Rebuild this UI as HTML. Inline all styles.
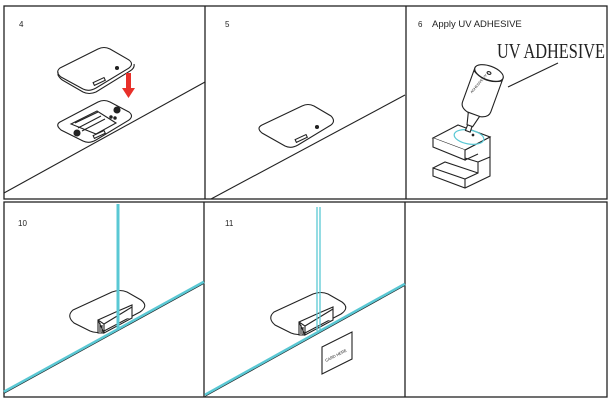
<!DOCTYPE html>
<html><head><meta charset="utf-8"><style>
html,body{margin:0;padding:0;background:#fff;}
svg{display:block;}
</style></head><body>
<svg width="610" height="402" viewBox="0 0 610 402" xmlns="http://www.w3.org/2000/svg">
<g fill="none" stroke="#222" stroke-width="1.3">
<rect x="4" y="6" width="603" height="193"/>
<line x1="205" y1="6" x2="205" y2="199"/>
<line x1="406" y1="6" x2="406" y2="199"/>
<rect x="4" y="202" width="603" height="195"/>
<line x1="204" y1="202" x2="204" y2="397"/>
<line x1="405" y1="202" x2="405" y2="397"/>
</g>
<g font-size="8" fill="#222" style="font-family:'Liberation Sans',sans-serif">
<text x="19" y="27">4</text>
<text x="225" y="27">5</text>
<text x="418" y="27">6</text>
<text x="432" y="27" font-size="9.5">Apply UV ADHESIVE</text>
<text x="18" y="226">10</text>
<text x="225" y="226">11</text>
</g>
<text x="497" y="58" style="font-family:'Liberation Serif',serif;font-size:21px" fill="#222" textLength="108" lengthAdjust="spacingAndGlyphs">UV ADHESIVE</text>

<!-- panel 4 -->
<g fill="none" stroke="#222" stroke-width="1.1">
<line x1="4" y1="193" x2="205" y2="82"/>
<path d="M60 68 L98 49 Q104 46 110 49 L129 60 Q134 64 129 68 L96 88 Q89 92 83 89 L61 77 Q55 72 60 68 Z" fill="#fff"/>
<path d="M58 72 L58 75 Q60 79 64 81 L83 92 Q89 95 96 92 L130 71 Q135 68 134 64"/>
<rect x="93" y="80" width="12" height="3" transform="rotate(-25 99 81)"/>
<circle cx="117" cy="68" r="1.5" fill="#222"/>
<path d="M60 122 L98 102 Q104 99 110 102 L129 112 Q134 116 129 120 L96 140 Q89 144 83 141 L61 130 Q55 125 60 122 Z" fill="#fff"/>
<path d="M71 124 L97 111 L116 123 L96 134 Z"/>
<path d="M75 123 L98 112 M78 128 L101 116 M82 131 L105 119"/>
<rect x="93" y="133" width="12" height="3" transform="rotate(-25 99 134)"/>
<circle cx="117" cy="110" r="3" fill="#222"/>
<circle cx="77" cy="133" r="3" fill="#222"/>
<circle cx="111" cy="117" r="1.2" fill="#222"/><circle cx="115" cy="118" r="1.2" fill="#222"/>
</g>
<path d="M126 73 h5 v15 h4 l-6.5 10 l-6.5 -10 h4 z" fill="#e8302a"/>

<!-- panel 5 -->
<g fill="none" stroke="#222" stroke-width="1.1">
<line x1="211" y1="199" x2="405" y2="95"/>
<path d="M262 125 L302 106 Q308 103 314 106 L331 116 Q336 121 331 125 L298 145 Q291 149 285 146 L262 133 Q256 128 262 125 Z" fill="#fff"/>
<rect x="295" y="137" width="12" height="3" transform="rotate(-25 301 138)"/>
<circle cx="317" cy="127" r="1.5" fill="#222"/>
</g>

<!-- panel 6 -->
<g fill="none" stroke="#222" stroke-width="1.1">
<line x1="508" y1="87" x2="558" y2="63"/>
<!-- block -->
<path d="M490 137 L490 176 L465 188 L433 176 L433 168 L465 179 L478 173 L478 162 L455 155 L465 150 L490 137 Z" fill="#fff"/>
<path d="M433 168 L445 162 L478 173 M465 179 L465 188 M478 162 L490 157"/>
<path d="M433 138 L458 125 L490 137 L465 150 Z" fill="#fff"/>
<path d="M433 138 L433 147 L465 160 L465 150 M465 160 L478 154" fill="#fff"/>
<ellipse cx="469" cy="137" rx="15" ry="7" stroke="#5ac8d4" stroke-width="1.2" transform="rotate(10 469 137)"/>
<!-- bottle -->
<g transform="translate(489,73) rotate(20)" fill="#fff">
<path d="M-2 46 L2 46 L2.5 62 L-2.5 62 Z"/>
<path d="M-7 40 L7 40 L3 56 L-3 56 Z"/>
<path d="M-15 0 L-15 36 Q-15 42 -7 44 L7 44 Q15 42 15 36 L15 0 Z"/>
<path d="M-15 3 Q0 12 15 3"/>
<ellipse cx="0" cy="0" rx="15" ry="7"/>
<ellipse cx="0" cy="0" rx="2" ry="1.3"/>
<text x="-9" y="25" font-size="3.5" fill="#222" stroke="none" transform="rotate(-70 -9 25)" style="font-family:'Liberation Sans',sans-serif">ADHESIVE UV</text>
</g>
<circle cx="473" cy="135" r="0.8" fill="#222"/>
</g>

<!-- panel 10 -->
<g fill="none" stroke="#222" stroke-width="1.1">
<path d="M73 310 L112 292 Q120 289 127 292 L141 300 Q149 306 140 312 L104 331 Q97 334 90 331 L74 323 Q66 316 73 310 Z" fill="#fff"/>
<path d="M98 320 L118 311 L132 305 L132 318 L104 333 Z M98 320 L98 333 L104 333 M98 320 L104 324 L104 333 L132 318 M104 324 L132 307" fill="#fff"/>
<path d="M100 323 v9 M102 325 v8"/>
</g>
<line x1="4" y1="392" x2="204" y2="282" stroke="#5ac8d4" stroke-width="3"/>
<line x1="4" y1="392" x2="204" y2="282" stroke="#222" stroke-width="0.6" transform="translate(0,1.5)"/>
<line x1="118" y1="204" x2="118" y2="330" stroke="#5ac8d4" stroke-width="3"/>

<!-- panel 11 -->
<g fill="none" stroke="#222" stroke-width="1.1">
<path d="M274 312 L313 294 Q321 291 328 294 L342 302 Q350 308 341 314 L305 333 Q298 336 291 333 L275 325 Q267 318 274 312 Z" fill="#fff"/>
<path d="M299 322 L319 313 L333 307 L333 320 L305 335 Z M299 322 L299 335 L305 335 M299 322 L305 326 L305 335 L333 320 M305 326 L333 309" fill="#fff"/>
<path d="M301 325 v9 M303 327 v8"/>
<path d="M322 347 L352 332 L352 359 L322 374 Z" fill="#fff"/>
</g>
<text x="326" y="362" font-size="4" fill="#222" transform="rotate(-27 326 362)" style="font-family:'Liberation Sans',sans-serif">CARD HERE</text>
<line x1="205" y1="395" x2="405" y2="284" stroke="#5ac8d4" stroke-width="3"/>
<line x1="205" y1="395" x2="405" y2="284" stroke="#222" stroke-width="0.6" transform="translate(0,1.5)"/>
<line x1="317" y1="207" x2="317" y2="331" stroke="#5ac8d4" stroke-width="1.3"/>
<line x1="320" y1="207" x2="320" y2="331" stroke="#5ac8d4" stroke-width="1.3"/>
</svg>
</body></html>
